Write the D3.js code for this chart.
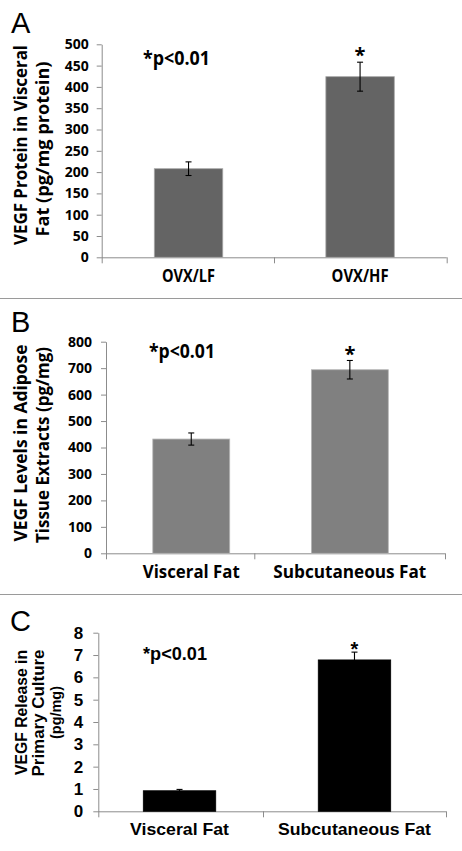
<!DOCTYPE html>
<html><head><meta charset="utf-8">
<script src="https://cdn.jsdelivr.net/npm/d3@7"></script>
<style>body{margin:0;background:#fff} svg{display:block}</style>
</head><body><svg id="c" width="462" height="851"></svg>
<script>
// ---------- data ----------
const categoriesA = ["OVX/LF", "OVX/HF"];
const valuesA = [208, 424];
const errorsA = [16, 34];
const ticksA = [0, 50, 100, 150, 200, 250, 300, 350, 400, 450, 500];
const titleA = ["VEGF Protein in Visceral", "Fat (pg/mg protein)"];

const categoriesB = ["Visceral Fat", "Subcutaneous Fat"];
const valuesB = [432, 694];
const errorsB = [23, 35];
const ticksB = [0, 100, 200, 300, 400, 500, 600, 700, 800];
const titleB = ["VEGF Levels in Adipose", "Tissue Extracts (pg/mg)"];

const categoriesC = ["Visceral Fat", "Subcutaneous Fat"];
const valuesC = [0.92, 6.78];
const errorsC = [0.06, 0.35];
const ticksC = [0, 1, 2, 3, 4, 5, 6, 7, 8];
const titleC = ["VEGF Release in", "Primary Culture", "(pg/mg)"];

const sigLabel = "*p<0.01";
const sigMarks = ["", "*"];
const panelLetters = ["A", "B", "C"];

// ---------- drawing ----------
const svg = d3.select("#c");
const AXIS = "#8c8c8c";

function panel(o) {
  const g = svg.append("g");
  const y = d3.scaleLinear().domain([0, d3.max(o.ticks)]).range([o.y0, o.y1]);
  const x = d3.scaleBand().domain(o.cats).range([o.bx0, o.bx1]).paddingInner(o.pad).paddingOuter(0);

  g.append("text").attr("x", o.lx).attr("y", o.ly)
    .attr("font-family", "'Liberation Sans', Arial, sans-serif").attr("font-size", o.lfs)
    .text(o.letter);

  const ya = g.append("g").attr("transform", `translate(${o.ax0},0)`)
    .call(d3.axisLeft(y).tickValues(o.ticks).tickSize(5).tickSizeOuter(0).tickPadding(o.tp));
  ya.select(".domain").attr("stroke", AXIS);
  ya.selectAll(".tick line").attr("stroke", AXIS);
  ya.selectAll(".tick text").attr("font-family", o.font).attr("font-weight", 700)
    .attr("font-size", o.tfs).attr("fill", "#000");

  g.append("line").attr("x1", o.ax0).attr("x2", o.ax1).attr("y1", y(0) + 0.5).attr("y2", y(0) + 0.5)
    .attr("stroke", AXIS);
  [o.ax0, o.div, o.ax1].forEach(px => {
    g.append("line").attr("x1", px + 0.5).attr("x2", px + 0.5).attr("y1", y(0)).attr("y2", y(0) + 6)
      .attr("stroke", AXIS);
  });

  g.selectAll("rect.bar").data(o.vals).join("rect").attr("class", "bar")
    .attr("x", (d, i) => x(o.cats[i]))
    .attr("width", x.bandwidth())
    .attr("y", d => y(d))
    .attr("height", d => y(0) - y(d))
    .attr("fill", o.fill).attr("stroke", o.stroke).attr("stroke-width", 0.8);

  o.vals.forEach((v, i) => {
    const cx = x(o.cats[i]) + x.bandwidth() / 2, e = o.errs[i];
    const eg = g.append("g").attr("stroke", "#000").attr("stroke-width", 1.1);
    eg.append("line").attr("x1", cx).attr("x2", cx).attr("y1", y(v + e)).attr("y2", y(v - e));
    eg.append("line").attr("x1", cx - 3).attr("x2", cx + 3).attr("y1", y(v + e)).attr("y2", y(v + e));
    eg.append("line").attr("x1", cx - 3).attr("x2", cx + 3).attr("y1", y(v - e)).attr("y2", y(v - e));
    if (sigMarks[i]) {
      g.append("text").attr("x", cx).attr("y", y(v + e) + o.starDy)
        .attr("text-anchor", "middle").attr("font-family", o.font).attr("font-weight", 700)
        .attr("font-size", o.starFs).text(sigMarks[i]);
    }
    const ct = g.append("text").attr("x", cx).attr("y", o.cy)
      .attr("text-anchor", "middle").attr("font-family", o.font).attr("font-weight", 700)
      .attr("font-size", o.cfs).text(o.cats[i]);
    if (o.clen) ct.attr("textLength", o.clen[i]).attr("lengthAdjust", "spacingAndGlyphs");
  });

  const pt = g.append("text").attr("x", o.px).attr("y", o.py)
    .attr("font-family", o.font).attr("font-weight", 700).attr("font-size", o.sfs)
    .text(sigLabel);
  if (o.plen) pt.attr("textLength", o.plen).attr("lengthAdjust", "spacingAndGlyphs");

  o.title.forEach((t, i) => {
    const tx = g.append("text")
      .attr("transform", `translate(${o.tx[i]},${o.tyc[i]}) rotate(-90)`)
      .attr("text-anchor", "middle").attr("font-family", o.font).attr("font-weight", 700)
      .attr("font-size", o.yfs[i]).text(t);
    if (o.tlen) tx.attr("textLength", o.tlen[i]).attr("lengthAdjust", "spacingAndGlyphs");
  });
}

const calibri = "'Open Sans', Lato, sans-serif";
const arial = "'Liberation Sans', Arial, sans-serif";

panel({
  letter: panelLetters[0], lx: 11, ly: 33.3, lfs: 29,
  cats: categoriesA, vals: valuesA, errs: errorsA, ticks: ticksA, title: titleA,
  y0: 257.3, y1: 44.3, bx0: 154.3, bx1: 394.3, pad: 0.601,
  ax0: 101.7, ax1: 446.7, div: 274, tp: 8,
  font: calibri, tfs: 14, cfs: 17, cy: 282, sfs: 19, starFs: 20, yfs: [18.5, 18.5],
  px: 143, py: 65, plen: 67, starDy: 0, clen: [53, 57],
  fill: "#646464", stroke: "#a8a8a8",
  tx: [27, 48.5], tyc: [145, 149], tlen: [200, 175]
});

panel({
  letter: panelLetters[1], lx: 11, ly: 331.7, lfs: 29,
  cats: categoriesB, vals: valuesB, errs: errorsB, ticks: ticksB, title: titleB,
  y0: 553.3, y1: 341.7, bx0: 152.8, bx1: 388.3, pad: 0.515,
  ax0: 106, ax1: 445, div: 254.3, tp: 9,
  font: calibri, tfs: 14, cfs: 18.5, cy: 578.3, sfs: 19, starFs: 20, yfs: [18.5, 18.5],
  px: 149, py: 358.3, plen: 66, starDy: 1, clen: [97, 153],
  fill: "#808080", stroke: "#b5b5b5",
  tx: [27, 48.5], tyc: [443, 445], tlen: [197, 196]
});

panel({
  letter: panelLetters[2], lx: 10, ly: 630.5, lfs: 29,
  cats: categoriesC, vals: valuesC, errs: errorsC, ticks: ticksC, title: titleC,
  y0: 811.3, y1: 632.7, bx0: 143.3, bx1: 390.7, pad: 0.586,
  ax0: 98.3, ax1: 446, div: 263, tp: 10,
  font: arial, tfs: 17, cfs: 17, cy: 835, sfs: 18, starFs: 20, yfs: [17, 17, 15.5],
  px: 143, py: 660, plen: 64, starDy: 4, clen: [99, 153],
  fill: "#000", stroke: "#000",
  tx: [26.7, 44, 61], tyc: [712.5, 713, 712.5], tlen: [125, 127, 53]
});

[298.5, 594.5].forEach(yy => {
  svg.append("line").attr("x1", 0).attr("x2", 462).attr("y1", yy).attr("y2", yy)
    .attr("stroke", "#9a9a9a").attr("stroke-width", 1);
});
</script></body></html>
